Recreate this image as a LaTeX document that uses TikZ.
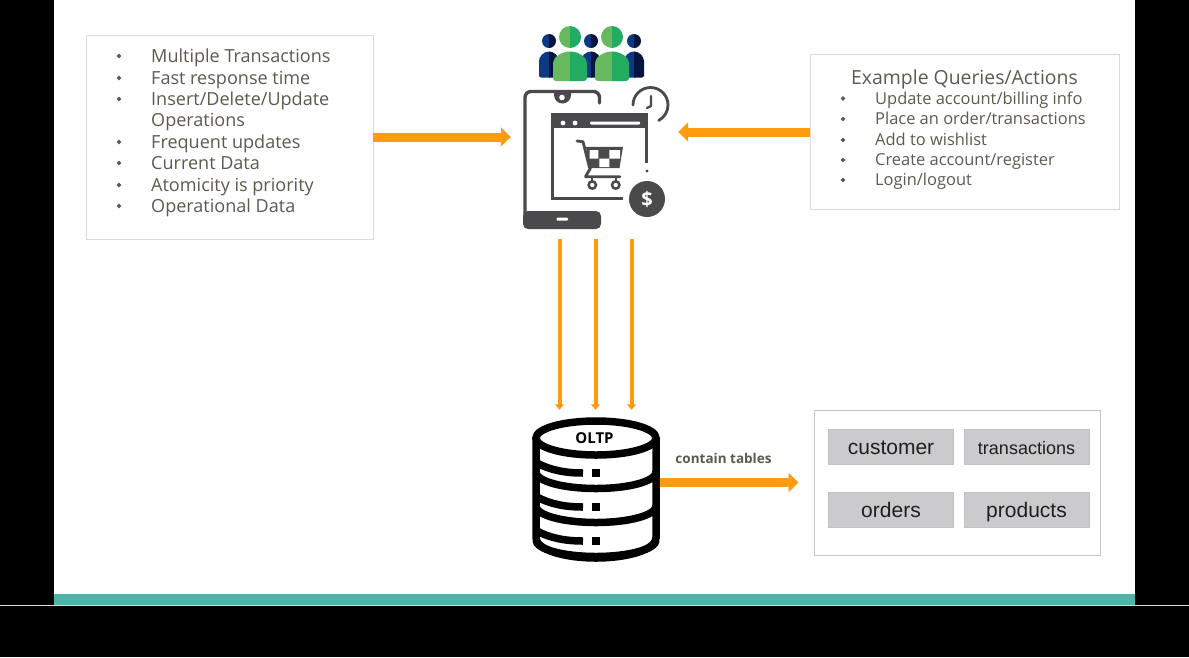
\documentclass[tikz,border=0pt]{standalone}
\usepackage{fontspec}
\setmainfont{Open Sans}
\newfontfamily\libsans{Liberation Sans}
\usetikzlibrary{arrows.meta}
\definecolor{orangeA}{HTML}{FF9C0E}
\definecolor{txtA}{HTML}{5F5A4E}
\definecolor{iconA}{HTML}{4A4A4C}
\definecolor{tealA}{HTML}{4FB3A8}
\definecolor{cellA}{HTML}{CBCBCD}
\definecolor{navyL}{HTML}{0B3A82}
\definecolor{navyR}{HTML}{04163F}
\definecolor{greenL}{HTML}{68B85F}
\definecolor{greenR}{HTML}{22AC62}
\tikzset{
  x=1pt,y=-1pt,
  panel/.style={draw=black!14,line width=0.9pt,fill=white,inner sep=0pt,anchor=center},
  ghost/.style={inner sep=0pt,anchor=center},
  listA/.style={anchor=base west,inner sep=0pt,text=txtA,font=\fontsize{18.05}{20}\selectfont},
  listB/.style={anchor=base west,inner sep=0pt,text=txtA,font=\fontsize{16.45}{20}\selectfont},
  bigarrow/.style={draw=orangeA,line width=9pt,-{Triangle[length=10pt,width=19pt,fill=orangeA]}},
  thinarrow/.style={draw=orangeA,line width=4pt,-{Triangle[length=5.5pt,width=9pt,fill=orangeA]}},
  cell/.style={draw=black!24,line width=0.8pt,fill=cellA,inner sep=0pt,anchor=center,minimum width=125pt,minimum height=35pt,text=black!88,text height=18pt,text depth=3pt,font=\libsans\fontsize{21}{22}\selectfont},
  dbline/.style={draw=black,line width=7.5pt,line cap=round},
}
\newcommand{\bul}[2]{\fill[txtA] (#1-2.4,#2) -- (#1,#2-2.4) -- (#1+2.4,#2) -- (#1,#2+2.4) -- cycle;}
\begin{document}
\begin{tikzpicture}
\useasboundingbox (0,0) rectangle (1189,657);
\fill[black] (0,0) rectangle (1189,657);
\fill[white] (54,0) rectangle (1135,594);
\fill[tealA] (54,594) rectangle (1135,605);
\draw[black!15,line width=1.2pt] (0,605.5) -- (1189,605.5);

% left panel
\node[panel,minimum width=287pt,minimum height=204pt] (leftbox) at (229.5,137) {};
\foreach \yy/\b/\t in {62/1/{Multiple Transactions},84/1/{Fast response time},105/1/{Insert/Delete/Update},126/0/{Operations},148/1/{Frequent updates},169/1/{Current Data},191/1/{Atomicity is priority},212/1/{Operational Data}}{
  \node[listA] at (151,\yy) {\t};
  \ifnum\b=1 \bul{119}{\yy-6}\fi
}
% right panel
\node[panel,minimum width=309pt,minimum height=155pt] (rightbox) at (964.5,132) {};
\node[anchor=center,inner sep=0pt,text=txtA,font=\fontsize{19.4}{21}\selectfont] (extitle) at (964.5,79.5) {Example Queries/Actions};
\foreach \yy/\t in {104/{Update account/billing info},124.5/{Place an order/transactions},145.5/{Add to wishlist},165.5/{Create account/register},185.5/{Login/logout}}{
  \node[listB] at (875,\yy) {\t};
  \bul{843}{\yy-5.5}
}

% people
\node[ghost,minimum width=105pt,minimum height=57pt] (people) at (591,53) {};
\foreach \cx in {549,591,634}{
  \begin{scope}
    \clip (\cx-20,25) rectangle (\cx+1,85);
    \fill[navyL] (\cx,41) circle (7);
    \fill[navyL,rounded corners=2pt] (\cx-10,77.5) -- (\cx-10,63) arc[start angle=180,end angle=360,x radius=10,y radius=11.5] -- (\cx+10,77.5) -- cycle;
  \end{scope}
  \begin{scope}
    \clip (\cx,25) rectangle (\cx+20,85);
    \fill[navyR] (\cx,41) circle (7);
    \fill[navyR,rounded corners=2pt] (\cx-10,77.5) -- (\cx-10,63) arc[start angle=180,end angle=360,x radius=10,y radius=11.5] -- (\cx+10,77.5) -- cycle;
  \end{scope}
}
\foreach \cx in {570,612}{
  \begin{scope}
    \clip (\cx-20,20) rectangle (\cx,85);
    \fill[greenL] (\cx,37) circle (11);
    \fill[greenL,rounded corners=3pt] (\cx-17,81) -- (\cx-17,66) arc[start angle=180,end angle=360,x radius=17,y radius=14.5] -- (\cx+17,81) -- cycle;
  \end{scope}
  \begin{scope}
    \clip (\cx,20) rectangle (\cx+20,85);
    \fill[greenR] (\cx,37) circle (11);
    \fill[greenR,rounded corners=3pt] (\cx-17,81) -- (\cx-17,66) arc[start angle=180,end angle=360,x radius=17,y radius=14.5] -- (\cx+17,81) -- cycle;
  \end{scope}
}

% phone icon
\node[ghost,minimum width=167pt,minimum height=154pt] (phone) at (594.5,162) {};
\draw[iconA,line width=3.4pt,rounded corners=6pt,line cap=round] (599.5,103) -- (599.5,91.5) -- (525,91.5) -- (525,220);
\fill[iconA,rounded corners=5pt] (523,211) -- (601,211) -- (601,229) -- (523,229) -- cycle;
\fill[white,rounded corners=1pt] (556.5,217.5) rectangle (568,220.5);
\fill[iconA] (554,91) -- (571,91) -- (571,95) arc[start angle=0,end angle=180,x radius=8.5,y radius=8.5] -- cycle;
\fill[white] (562,97.5) circle (2.8);
% window
\fill[iconA] (551,113) rectangle (648,128);
\fill[white] (563,123) circle (2.4) (575,123) circle (2.4);
\fill[white,rounded corners=1pt] (590,121.5) rectangle (640,124.5);
\draw[iconA,line width=2.6pt] (552.3,128) -- (552.3,198.5) -- (623,198.5);
\draw[iconA,line width=2.6pt] (646.7,128) -- (646.7,163);
\fill[iconA] (647,171) circle (1.7);
% clock
\draw[iconA,line width=2.8pt,line cap=round] (633,105) arc[start angle=180,end angle=-62,x radius=17.5,y radius=-17.5];
\draw[iconA,line width=2.4pt,line cap=round,line join=round] (651,96) -- (651,106) -- (647,108);
% dollar
\fill[iconA] (647,199) circle (18);
\node[ghost,text=white,font=\bfseries\fontsize{20}{20}\selectfont] (dollar) at (647,199) {\$};
% cart
\draw[iconA,line width=2.8pt,line cap=round,line join=round] (577,141) -- (583,141.7) -- (589.5,167.5);
\fill[iconA,line join=round] (586,146.8) -- (623,146.8) -- (619.5,168) -- (590,168) -- cycle;
\fill[white] (589.5,150) rectangle (598.3,158.5) (609.3,150) rectangle (620,158.5) (599.3,158.5) rectangle (609.3,167);
\draw[iconA,line width=2.8pt,line cap=round,line join=round] (590.5,168) -- (585.5,176.7) -- (620,176.7);
\draw[iconA,line width=2.5pt] (592.3,185) circle (3.7) (615.7,185) circle (3.7);
\draw[iconA,line width=2.2pt] (592.3,176.7) -- (592.3,181.5) (615.7,176.7) -- (615.7,181.5);

% database
\node[ghost,minimum width=129pt,minimum height=152pt] (db) at (595.5,486) {};
\draw[dbline,line cap=butt] (536,438) -- (536,538) arc[start angle=180,end angle=360,x radius=60,y radius=-20] -- (656,438);
\draw[dbline] (596,421) arc[start angle=90,end angle=450,x radius=60,y radius=-17];
\foreach \d in {0,34,68}{
  \draw[dbline,line cap=butt] (536,\d+472) arc[start angle=180,end angle=360,x radius=60,y radius=-16.5];
}
\foreach \d in {0,34,68}{
  \draw[black,line width=7.5pt] (537,\d+463) .. controls (550,\d+470) and (565,\d+473) .. (583,\d+473);
  \fill[black] (592,\d+469) rectangle (600,\d+477);
}
\node[ghost,text=black,font=\bfseries\fontsize{15}{15}\selectfont] (oltp) at (594.5,438.5) {OLTP};

% tables
\node[panel,draw=black!22,line width=1pt,minimum width=286pt,minimum height=145pt] (tables) at (957,482.5) {};
\node[cell] (customer) at (891,446.5) {customer};
\node[cell,font=\libsans\fontsize{18}{20}\selectfont] (transactions) at (1026.5,446.5) {transactions};
\node[cell] (orders) at (891,509.5) {orders};
\node[cell] (products) at (1026.5,509.5) {products};
\node[ghost,text=txtA,font=\bfseries\fontsize{13.5}{14}\selectfont] (contain) at (723.5,458) {contain tables};

% connectors
\draw[bigarrow] (leftbox.east) -- (phone.west |- leftbox.east);
\draw[bigarrow] (rightbox.west) -- (phone.east |- rightbox.west);
\draw[thinarrow] ([xshift=-35pt]phone.south) -- ([xshift=-36pt]db.north);
\draw[thinarrow] ([xshift=1pt]phone.south) -- (db.north);
\draw[thinarrow] ([xshift=37pt]phone.south) -- ([xshift=36pt]db.north);
\draw[bigarrow,shorten >=15pt] (db.east |- tables.west) -- (tables.west);
\end{tikzpicture}
\end{document}
